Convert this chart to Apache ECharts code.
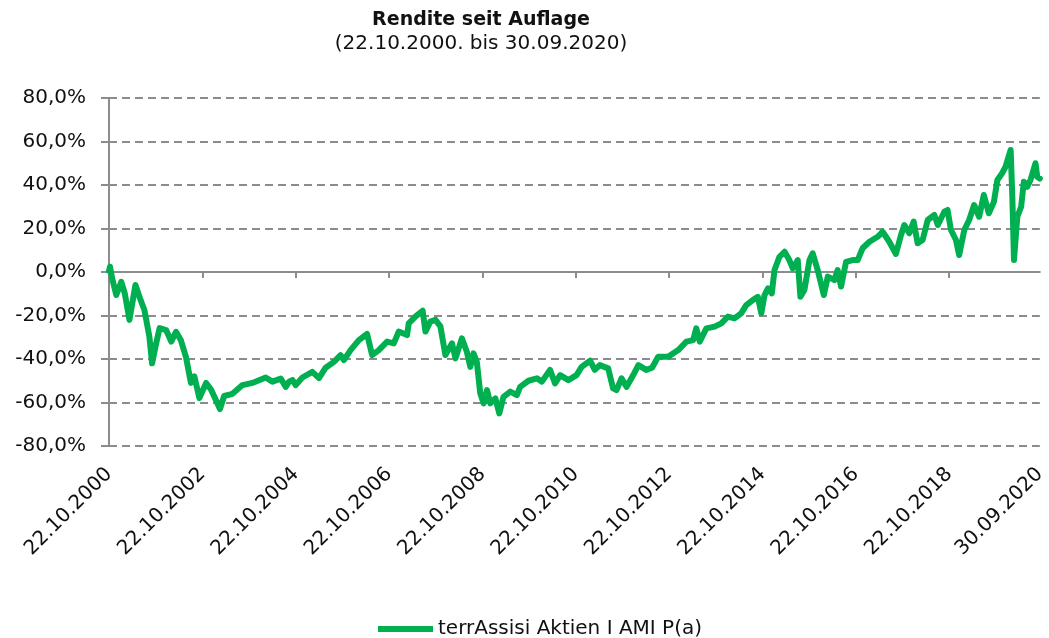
<!DOCTYPE html>
<html>
<head>
<meta charset="utf-8">
<script src="https://cdn.jsdelivr.net/npm/echarts@6/dist/echarts.min.js"></script>
<style>
  html, body { margin: 0; padding: 0; background: #fff; }
  #chart { width: 1049px; height: 638px; }
</style>
</head>
<body>
<div id="chart"></div>
<script>
// ---- data ----
const seriesName = 'terrAssisi Aktien I AMI P(a)';
const dates = [
  '2000-10-22','2000-10-30','2000-11-15','2000-12-18',
  '2001-01-26','2001-02-22','2001-03-31','2001-05-17','2001-06-17','2001-07-26','2001-09-03','2001-09-24','2001-10-26','2001-11-22',
  '2002-01-12','2002-02-21','2002-03-30','2002-05-07','2002-06-16','2002-07-25','2002-08-21','2002-09-29','2002-11-21','2002-12-29',
  '2003-02-06','2003-03-09','2003-04-11','2003-06-15','2003-09-01','2003-11-18',
  '2004-03-01','2004-04-22','2004-06-27','2004-08-05','2004-08-31','2004-09-27','2004-10-22','2004-12-13',
  '2005-03-01','2005-04-22','2005-06-13','2005-08-17','2005-10-08','2005-11-03','2005-12-25',
  '2006-02-28','2006-05-03','2006-06-12','2006-08-03','2006-10-07','2006-11-28',
  '2007-01-06','2007-03-12','2007-03-25','2007-05-16','2007-07-12','2007-08-03','2007-09-10','2007-10-20','2007-11-28',
  '2008-01-06','2008-02-27','2008-03-25','2008-05-14','2008-06-22','2008-07-19','2008-08-13','2008-09-08','2008-10-05','2008-10-31','2008-11-27','2008-12-22',
  '2009-01-31','2009-03-03','2009-04-05','2009-05-28','2009-07-18','2009-08-13','2009-10-17','2009-12-22',
  '2010-01-30','2010-04-04','2010-05-13','2010-06-22','2010-08-25','2010-10-28','2010-12-07',
  '2011-02-11','2011-03-20','2011-04-28','2011-07-03','2011-08-10','2011-09-06','2011-10-15','2011-11-24',
  '2012-01-15','2012-02-24','2012-04-25','2012-06-10','2012-07-28','2012-10-14',
  '2013-01-01','2013-03-06','2013-04-28','2013-05-22','2013-06-18','2013-08-09','2013-10-13','2013-12-04',
  '2014-01-25','2014-03-17','2014-05-08','2014-06-17','2014-08-07','2014-09-16','2014-10-13','2014-11-07','2014-12-04',
  '2015-01-03','2015-01-24','2015-03-04','2015-04-13','2015-05-20','2015-06-16','2015-07-25','2015-08-15','2015-09-15','2015-10-25','2015-11-19','2015-12-28',
  '2016-02-14','2016-03-16','2016-05-07','2016-06-01','2016-06-28','2016-08-06','2016-09-27','2016-11-05','2016-12-13',
  '2017-02-05','2017-04-10','2017-05-19','2017-07-10','2017-08-31','2017-10-10','2017-11-05','2017-12-14',
  '2018-01-17','2018-02-17','2018-03-28','2018-05-07','2018-06-28','2018-07-25','2018-09-14','2018-10-09','2018-11-05','2018-12-14',
  '2019-01-08','2019-02-17','2019-03-27','2019-05-05','2019-06-13','2019-07-20','2019-08-28','2019-10-07','2019-11-03','2019-12-10',
  '2020-01-06','2020-02-15','2020-02-28','2020-03-12','2020-03-25','2020-04-07','2020-05-07','2020-05-28','2020-06-24','2020-07-19','2020-08-27','2020-09-10','2020-09-30'
];
const returns = [
  0.5, 2.4, -2.8, -10.6,
  -4.5, -9.7, -22, -6, -11.4, -17.5, -29.8, -42, -32.8, -25.8,
  -26.7, -32, -27.5, -31.3, -39, -51, -48, -58, -51, -54,
  -59, -63, -57, -56, -52, -51,
  -48.5, -50.4, -49, -52.8, -50.4, -49.7, -52, -48.5,
  -45.9, -48.8, -44, -41.3, -38.2, -40.5, -35.9,
  -31.3, -28.5, -38.2, -35.9, -32, -32.8,
  -27.4, -29, -23.6, -20.5, -17.8, -27.4, -22.8, -22, -25,
  -38.2, -32.8, -39.7, -30.5, -36.7, -43.6, -37.4, -41.3, -55.8, -60.4, -54.3, -60.4,
  -58.1, -65, -57.4, -55, -56.6, -52.8, -50, -48.9,
  -50.4, -45, -51.2, -47.4, -49.7, -47.4, -43.6,
  -40.8, -45, -42.8, -44.3, -53.5, -54.3, -48.9, -52.8,
  -47.4, -42.8, -45, -44, -39, -39,
  -35.9, -32, -31.3, -25.9, -32, -25.9, -25.1, -23.6,
  -20.5, -21.3, -19, -15.2, -12.9, -11.4, -19, -10.6, -7.5,
  -9.8, 0.9, 7, 9.3, 5.5, 1.7, 5.5, -11.4, -8.3, 5.5, 8.6, 0.9,
  -10.6, -2.1, -3.7, 0.9, -6.7, 4.7, 5.5, 5.5, 10.9,
  13.9, 16.2, 18.5, 13.9, 8.3, 17, 21.6, 17.8,
  23.2, 13.2, 14.7, 23.9, 26.2, 21.6, 27.7, 28.5, 19.3, 14.7,
  7.8, 19.3, 23.9, 30.8, 25.4, 35.4, 27, 32.3, 42.3, 45.4,
  48.4, 56.1, 34.6, 5.5, 4.7, 25.4, 30, 41.5, 39.2, 42.3, 50, 43.8, 43
];
const tickDates = ['2000-10-22','2002-10-22','2004-10-22','2006-10-22','2008-10-22','2010-10-22','2012-10-22','2014-10-22','2016-10-22','2018-10-22','2020-09-30'];
const tickLabels = ['22.10.2000','22.10.2002','22.10.2004','22.10.2006','22.10.2008','22.10.2010','22.10.2012','22.10.2014','22.10.2016','22.10.2018','30.09.2020'];
const axisTickDates = tickDates.slice(0, 10);
const yMin = -80, yMax = 80, yStep = 20;
const titleText = 'Rendite seit Auflage';
const subtitleText = '(22.10.2000. bis 30.09.2020)';

// ---- chart ----
const FONT = 'DejaVu Sans';
const GRAY = '#8c8c8c';
const GREEN = '#00b050';
const parse = s => Date.UTC(+s.slice(0, 4), +s.slice(5, 7) - 1, +s.slice(8, 10));
const tickTs = tickDates.map(parse);
const xMin = parse(dates[0]);
const xMax = parse(dates[dates.length - 1]);

const chart = echarts.init(document.getElementById('chart'), null, { renderer: 'canvas' });
chart.setOption({
  animation: false,
  backgroundColor: '#fff',
  title: {
    text: titleText,
    subtext: subtitleText,
    left: 481,
    top: 11,
    textAlign: 'center',
    padding: 0,
    itemGap: 4,
    textStyle: { fontFamily: FONT, fontSize: 19, fontWeight: 'bold', color: '#111' },
    subtextStyle: { fontFamily: FONT, fontSize: 20, color: '#111' }
  },
  legend: {
    left: 373,
    top: 614,
    itemWidth: 55,
    itemHeight: 14,
    itemGap: 5,
    textStyle: { fontFamily: FONT, fontSize: 20, color: '#111' },
    data: [{ name: seriesName, icon: 'path://M0,0 L55,0 L55,6 L0,6 Z' }]
  },
  grid: { left: 109, right: 7, top: 98, bottom: 192, containLabel: false },
  xAxis: [
    {
      type: 'value',
      min: xMin,
      max: xMax,
      position: 'bottom',
      axisLine: { show: false, onZero: false },
      axisTick: { show: false },
      splitLine: { show: false },
      axisLabel: {
        rotate: 45,
        margin: 25,
        fontFamily: FONT,
        fontSize: 20,
        color: '#111',
        customValues: tickTs,
        formatter: v => {
          const i = tickTs.indexOf(v);
          return i >= 0 ? tickLabels[i] : '';
        }
      }
    },
    {
      type: 'value',
      min: xMin,
      max: xMax,
      position: 'bottom',
      axisLine: { show: true, onZero: true, lineStyle: { color: GRAY, width: 2 } },
      axisTick: { show: true, length: 6, lineStyle: { color: GRAY, width: 2 }, customValues: axisTickDates.map(parse) },
      axisLabel: { show: false },
      splitLine: { show: false }
    }
  ],
  yAxis: {
    type: 'value',
    min: yMin,
    max: yMax,
    interval: yStep,
    axisLine: { show: true, lineStyle: { color: GRAY, width: 2 } },
    axisTick: { show: true, length: 8, lineStyle: { color: GRAY, width: 2 } },
    axisLabel: {
      margin: 23,
      fontFamily: FONT,
      fontSize: 20,
      color: '#111',
      formatter: v => v.toFixed(1).replace('.', ',') + '%'
    },
    splitLine: { show: true, lineStyle: { color: GRAY, width: 2, type: [8, 5] } }
  },
  series: [{
    name: seriesName,
    type: 'line',
    xAxisIndex: 0,
    showSymbol: false,
    symbol: 'none',
    lineStyle: { color: GREEN, width: 6, join: 'round', cap: 'round' },
    itemStyle: { color: GREEN },
    data: dates.map((d, i) => [parse(d), returns[i]])
  }]
});
</script>
</body>
</html>
